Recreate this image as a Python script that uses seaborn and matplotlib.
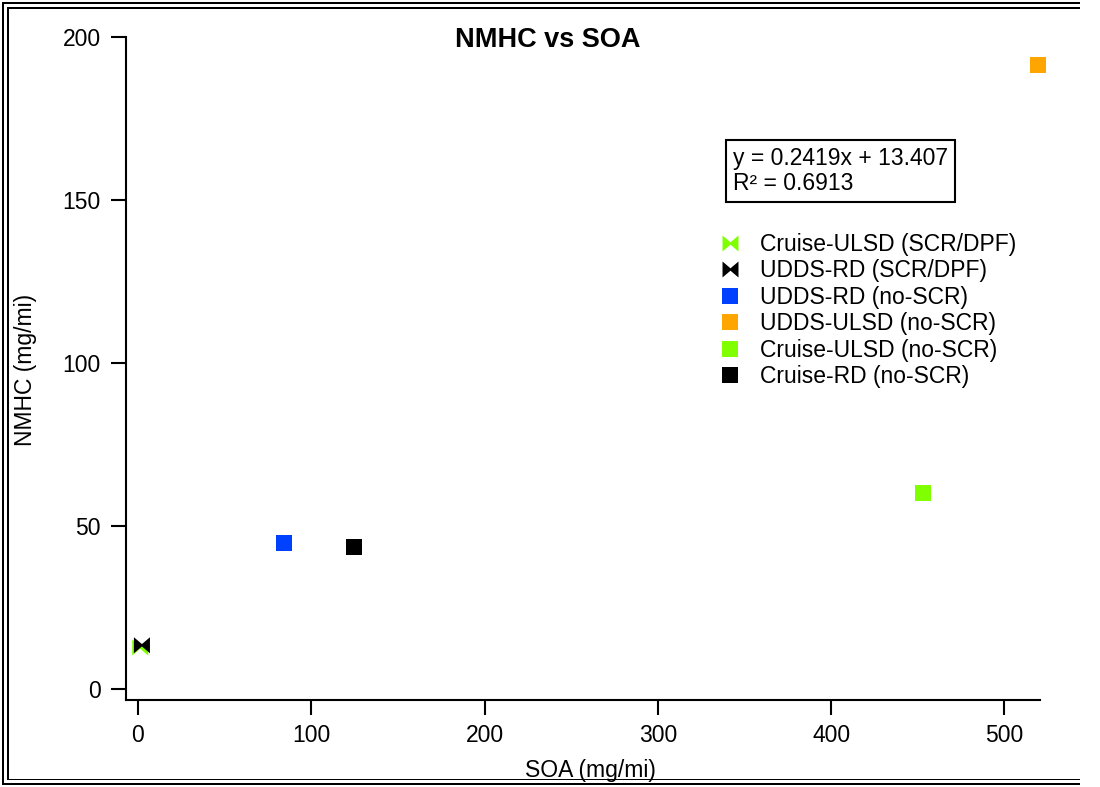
import numpy as np
import pandas as pd
import matplotlib
matplotlib.use("Agg")
import matplotlib.pyplot as plt
from matplotlib.path import Path
from matplotlib.lines import Line2D
from matplotlib.patches import Rectangle
import seaborn as sns

# Emission test results: secondary organic aerosol vs non-methane hydrocarbons
series = [
    "Cruise-ULSD (SCR/DPF)",
    "UDDS-RD (SCR/DPF)",
    "UDDS-RD (no-SCR)",
    "UDDS-ULSD (no-SCR)",
    "Cruise-ULSD (no-SCR)",
    "Cruise-RD (no-SCR)",
]
soa = [1.3, 2.3, 84.0, 519.5, 452.8, 124.4]     # mg/mi
nmhc = [12.6, 13.3, 44.7, 191.3, 59.9, 43.6]    # mg/mi
colors = ["#7FFF00", "#000000", "#0040FF", "#FFA500", "#7FFF00", "#000000"]

fit_text = "y = 0.2419x + 13.407\nR² = 0.6913"

sns.set_theme(style="white")
plt.rcParams["font.family"] = ["Liberation Sans", "DejaVu Sans"]
plt.rcParams.update({
    "text.color": "black",
    "axes.labelcolor": "black",
    "xtick.color": "black",
    "ytick.color": "black",
})

# bow-tie marker used for the SCR/DPF vehicle
bowtie = Path(
    [(-1, -1), (-1, 1), (0, 0.15), (1, 1), (1, -1), (0, -0.15), (-1, -1)],
    [Path.MOVETO, Path.LINETO, Path.LINETO, Path.LINETO, Path.LINETO,
     Path.LINETO, Path.CLOSEPOLY],
)
markers = {s: (bowtie if "SCR/DPF" in s else "s") for s in series}
palette = dict(zip(series, colors))

df = pd.DataFrame({"SOA": soa, "NMHC": nmhc, "series": series})

W, H = 1100, 787
fig = plt.figure(figsize=(W / 100, H / 100), dpi=100)
fig.patch.set_edgecolor("white")
fig.patch.set_linewidth(0)
ax = fig.add_axes([126 / W, 1 - 700 / H, (1040 - 126) / W, (700 - 37) / H])

sns.scatterplot(
    data=df, x="SOA", y="NMHC", hue="series", style="series",
    hue_order=series, style_order=series, palette=palette, markers=markers,
    s=133, linewidth=0, ax=ax, legend=False, clip_on=False, zorder=3,
)

ax.set_xlim(-6.9, 520.5)
ax.set_ylim(-3.5, 200)
ax.set_xticks([0, 100, 200, 300, 400, 500])
ax.set_yticks([0, 50, 100, 150, 200])
ax.set_xlabel("")
ax.set_ylabel("")

for side in ("top", "right"):
    ax.spines[side].set_visible(False)
for side in ("left", "bottom"):
    ax.spines[side].set_color("black")
    ax.spines[side].set_linewidth(1.5)
ax.tick_params(axis="both", which="major", direction="out", length=11,
               width=1.5, colors="black", labelsize=16.5)
ax.tick_params(axis="x", pad=6)
ax.tick_params(axis="y", pad=7)
ax.xaxis.set_ticks_position("bottom")
ax.yaxis.set_ticks_position("left")

fig.text(548 / W, 1 - 40 / H, "NMHC vs SOA", ha="center", va="center",
         fontsize=19.5, fontweight="bold")
fig.text(26 / W, 1 - 370 / H, "NMHC (mg/mi)", rotation=90, ha="center",
         va="center", fontsize=16.5)
fig.text(590 / W, 1 - 770 / H, "SOA (mg/mi)", ha="center", va="center",
         fontsize=16.5)

fig.text(733 / W, 1 - 171 / H, fit_text, ha="left", va="center",
         fontsize=16.5, linespacing=1.15,
         bbox=dict(boxstyle="square,pad=0.3", facecolor="white",
                   edgecolor="black", linewidth=1.5))

handles = [
    Line2D([], [], linestyle="none", marker=markers[s], markersize=11.5,
           markerfacecolor=palette[s], markeredgewidth=0)
    for s in series
]
fig.legend(handles, series, loc="upper left",
           bbox_to_anchor=(719 / W, 1 - 233 / H), frameon=False,
           fontsize=16.5, handlelength=1.0, handletextpad=0.8,
           labelspacing=0.15, borderpad=0, borderaxespad=0)

# double frame on the left, top and bottom edges, as thin filled strips (pixels)
def strip(x, y, w, h):
    fig.add_artist(Rectangle((x / W, 1 - (y + h) / H), w / W, h / H,
                             transform=fig.transFigure, facecolor="black",
                             edgecolor="none", linewidth=0))

right_end = W - 20
for inset, th in ((2, 2), (7, 1.5)):
    strip(inset, inset, th, H - 2 * inset)                    # left
    strip(inset, inset, right_end - inset, th)                # top
    strip(inset, H - inset - th, right_end - inset, th)       # bottom

fig.savefig("out.png", dpi=100, facecolor="white")
